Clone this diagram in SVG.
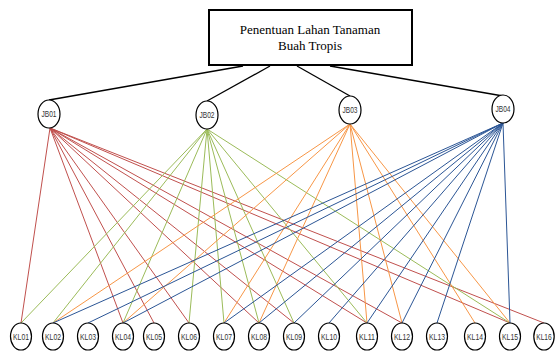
<svg xmlns="http://www.w3.org/2000/svg" width="555" height="351" viewBox="0 0 555 351">
<style>
.box{fill:#fff;stroke:#000;stroke-width:2}
.nd{fill:#fff;stroke:#000;stroke-width:1.2}
.t{font-family:"Liberation Serif",serif;font-size:13px;fill:#000;text-anchor:middle}
.l{font-family:"Liberation Sans",Arial,sans-serif;font-size:8.5px;fill:#333;text-anchor:middle}
.k{stroke:#000;stroke-width:1.3;fill:none}
.r{stroke:#C0504D;stroke-width:1;fill:none}
.g{stroke:#9BBB59;stroke-width:1;fill:none}
.o{stroke:#F79646;stroke-width:1;fill:none}
.b{stroke:#2B5595;stroke-width:1;fill:none}
</style>
<rect width="555" height="351" fill="#fff"/>
<g id="connectors">
<line class="k" x1="243" y1="66" x2="49" y2="100"/>
<line class="k" x1="270" y1="66" x2="207" y2="101"/>
<line class="k" x1="297" y1="66" x2="350" y2="96"/>
<line class="k" x1="330" y1="66" x2="503" y2="96"/>
<g class="r">
<line x1="50" y1="128" x2="21" y2="323"/>
<line x1="50" y1="128" x2="123" y2="323"/>
<line x1="50" y1="128" x2="154" y2="323"/>
<line x1="50" y1="128" x2="189" y2="323"/>
<line x1="50" y1="128" x2="259" y2="323"/>
<line x1="50" y1="128" x2="294" y2="323"/>
<line x1="50" y1="128" x2="367" y2="323"/>
<line x1="50" y1="128" x2="402" y2="323"/>
<line x1="50" y1="128" x2="510" y2="323"/>
<line x1="50" y1="128" x2="544" y2="323"/>
</g>
<g class="g">
<line x1="207" y1="129" x2="21" y2="323"/>
<line x1="207" y1="129" x2="53" y2="323"/>
<line x1="207" y1="129" x2="123" y2="323"/>
<line x1="207" y1="129" x2="189" y2="323"/>
<line x1="207" y1="129" x2="224" y2="323"/>
<line x1="207" y1="129" x2="259" y2="323"/>
<line x1="207" y1="129" x2="294" y2="323"/>
<line x1="207" y1="129" x2="367" y2="323"/>
<line x1="207" y1="129" x2="510" y2="323"/>
</g>
<g class="o">
<line x1="350" y1="124" x2="53" y2="323"/>
<line x1="350" y1="124" x2="123" y2="323"/>
<line x1="350" y1="124" x2="224" y2="323"/>
<line x1="350" y1="124" x2="259" y2="323"/>
<line x1="350" y1="124" x2="367" y2="323"/>
<line x1="350" y1="124" x2="402" y2="323"/>
<line x1="350" y1="124" x2="475" y2="323"/>
<line x1="350" y1="124" x2="510" y2="323"/>
</g>
<g class="b">
<line x1="503" y1="123" x2="53" y2="323"/>
<line x1="503" y1="123" x2="88" y2="323"/>
<line x1="503" y1="123" x2="123" y2="323"/>
<line x1="503" y1="123" x2="224" y2="323"/>
<line x1="503" y1="123" x2="259" y2="323"/>
<line x1="503" y1="123" x2="294" y2="323"/>
<line x1="503" y1="123" x2="329" y2="323"/>
<line x1="503" y1="123" x2="367" y2="323"/>
<line x1="503" y1="123" x2="402" y2="323"/>
<line x1="503" y1="123" x2="437" y2="323"/>
<line x1="503" y1="123" x2="510" y2="323"/>
</g>
</g>
<g id="root">
<rect class="box" x="209" y="10" width="203" height="55"/>
<text class="t" x="310" y="34">Penentuan Lahan Tanaman</text>
<text class="t" x="310" y="50">Buah Tropis</text>
</g>
<g id="JB01"><ellipse class="nd" cx="49" cy="114" rx="11" ry="14"/><text class="l" x="49" y="117" textLength="15" lengthAdjust="spacingAndGlyphs">JB01</text></g>
<g id="JB02"><ellipse class="nd" cx="207" cy="115" rx="11" ry="14"/><text class="l" x="207" y="118" textLength="15" lengthAdjust="spacingAndGlyphs">JB02</text></g>
<g id="JB03"><ellipse class="nd" cx="350" cy="110" rx="11" ry="14"/><text class="l" x="350" y="113" textLength="15" lengthAdjust="spacingAndGlyphs">JB03</text></g>
<g id="JB04"><ellipse class="nd" cx="503" cy="109" rx="11" ry="14"/><text class="l" x="503" y="112" textLength="15" lengthAdjust="spacingAndGlyphs">JB04</text></g>
<g id="KL01"><ellipse class="nd" cx="21" cy="336.5" rx="10.5" ry="13.5"/><text class="l" x="21" y="339.5" textLength="16" lengthAdjust="spacingAndGlyphs">KL01</text></g>
<g id="KL02"><ellipse class="nd" cx="53" cy="336.5" rx="10.5" ry="13.5"/><text class="l" x="53" y="339.5" textLength="16" lengthAdjust="spacingAndGlyphs">KL02</text></g>
<g id="KL03"><ellipse class="nd" cx="88" cy="336.5" rx="10.5" ry="13.5"/><text class="l" x="88" y="339.5" textLength="16" lengthAdjust="spacingAndGlyphs">KL03</text></g>
<g id="KL04"><ellipse class="nd" cx="123" cy="336.5" rx="10.5" ry="13.5"/><text class="l" x="123" y="339.5" textLength="16" lengthAdjust="spacingAndGlyphs">KL04</text></g>
<g id="KL05"><ellipse class="nd" cx="154" cy="336.5" rx="10.5" ry="13.5"/><text class="l" x="154" y="339.5" textLength="16" lengthAdjust="spacingAndGlyphs">KL05</text></g>
<g id="KL06"><ellipse class="nd" cx="189" cy="336.5" rx="10.5" ry="13.5"/><text class="l" x="189" y="339.5" textLength="16" lengthAdjust="spacingAndGlyphs">KL06</text></g>
<g id="KL07"><ellipse class="nd" cx="224" cy="336.5" rx="10.5" ry="13.5"/><text class="l" x="224" y="339.5" textLength="16" lengthAdjust="spacingAndGlyphs">KL07</text></g>
<g id="KL08"><ellipse class="nd" cx="259" cy="336.5" rx="10.5" ry="13.5"/><text class="l" x="259" y="339.5" textLength="16" lengthAdjust="spacingAndGlyphs">KL08</text></g>
<g id="KL09"><ellipse class="nd" cx="294" cy="336.5" rx="10.5" ry="13.5"/><text class="l" x="294" y="339.5" textLength="16" lengthAdjust="spacingAndGlyphs">KL09</text></g>
<g id="KL10"><ellipse class="nd" cx="329" cy="336.5" rx="10.5" ry="13.5"/><text class="l" x="329" y="339.5" textLength="16" lengthAdjust="spacingAndGlyphs">KL10</text></g>
<g id="KL11"><ellipse class="nd" cx="367" cy="336.5" rx="10.5" ry="13.5"/><text class="l" x="367" y="339.5" textLength="16" lengthAdjust="spacingAndGlyphs">KL11</text></g>
<g id="KL12"><ellipse class="nd" cx="402" cy="336.5" rx="10.5" ry="13.5"/><text class="l" x="402" y="339.5" textLength="16" lengthAdjust="spacingAndGlyphs">KL12</text></g>
<g id="KL13"><ellipse class="nd" cx="437" cy="336.5" rx="10.5" ry="13.5"/><text class="l" x="437" y="339.5" textLength="16" lengthAdjust="spacingAndGlyphs">KL13</text></g>
<g id="KL14"><ellipse class="nd" cx="475" cy="336.5" rx="10.5" ry="13.5"/><text class="l" x="475" y="339.5" textLength="16" lengthAdjust="spacingAndGlyphs">KL14</text></g>
<g id="KL15"><ellipse class="nd" cx="510" cy="336.5" rx="10.5" ry="13.5"/><text class="l" x="510" y="339.5" textLength="16" lengthAdjust="spacingAndGlyphs">KL15</text></g>
<g id="KL16"><ellipse class="nd" cx="544" cy="336.5" rx="10.2" ry="13.5"/><text class="l" x="544" y="339.5" textLength="15.5" lengthAdjust="spacingAndGlyphs">KL16</text></g>
</svg>
